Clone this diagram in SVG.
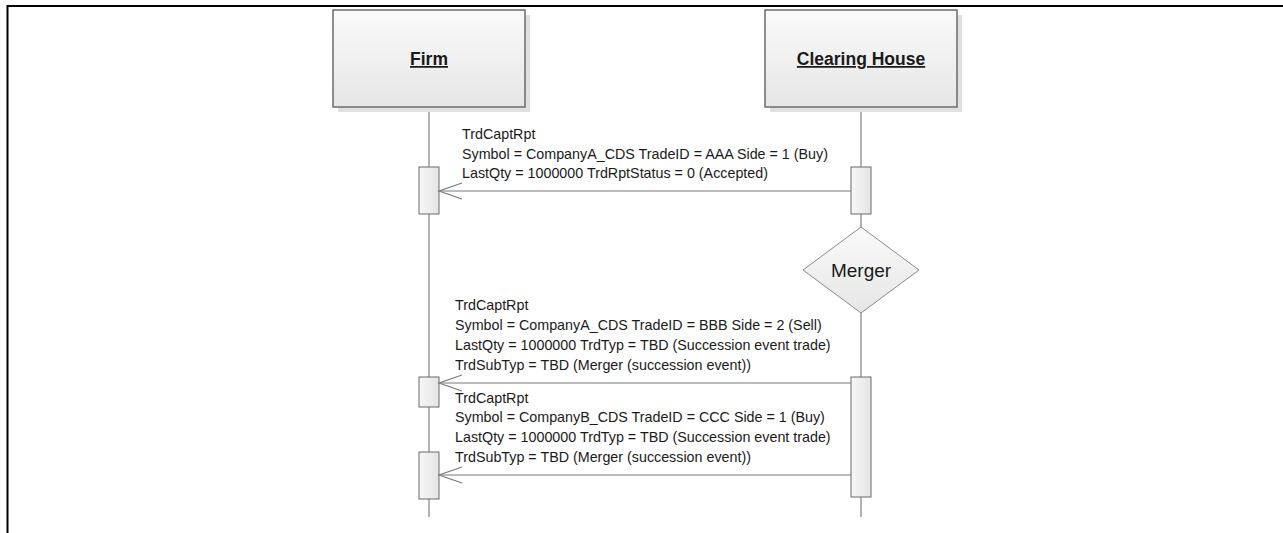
<svg xmlns="http://www.w3.org/2000/svg" width="1283" height="533" viewBox="0 0 1283 533" xml:space="preserve">
  <style>
    .frame { fill: none; stroke: #000; stroke-width: 2; }
    .head { fill: url(#boxFill); stroke: #6b6b6b; stroke-width: 1.5; }
    .shadow { fill: #e0e0e0; }
    .life { stroke: #9a9a9a; stroke-width: 1.5; fill: none; }
    .act { fill: url(#actFill); stroke: #6b6b6b; stroke-width: 1; }
    .msg { stroke: #7a7a7a; stroke-width: 1.2; fill: none; }
    .title { font-family: "Liberation Sans", Arial, sans-serif; font-size: 17.5px; font-weight: bold; fill: #1a1a1a; text-decoration: underline; text-anchor: middle; }
    .label { font-family: "Liberation Sans", Arial, sans-serif; font-size: 14.3px; fill: #1a1a1a; white-space: pre; }
    .merge { font-family: "Liberation Sans", Arial, sans-serif; font-size: 19px; fill: #1a1a1a; text-anchor: middle; }
  </style>
  <defs>
    <linearGradient id="boxFill" x1="0" y1="0" x2="0" y2="1">
      <stop offset="0" stop-color="#fafafa"/>
      <stop offset="1" stop-color="#e6e6e6"/>
    </linearGradient>
    <linearGradient id="actFill" x1="0" y1="0" x2="1" y2="0">
      <stop offset="0" stop-color="#f7f7f7"/>
      <stop offset="1" stop-color="#e4e4e4"/>
    </linearGradient>
    <!-- open V arrowhead, tip at the line end -->
    <marker id="openArrow" markerWidth="26" markerHeight="20" refX="24" refY="10" orient="auto" markerUnits="userSpaceOnUse">
      <path d="M1,2 L24,10 L1,18" fill="none" stroke="#7a7a7a" stroke-width="1.2"/>
    </marker>
  </defs>

  <rect width="1283" height="533" fill="#fff"/>
  <path class="frame" d="M7.5,533 V6 H1283"/>

  <!-- lifelines -->
  <g id="lifelines">
    <line class="life" x1="429" y1="107" x2="429" y2="517"/>
    <line class="life" x1="861" y1="107" x2="861" y2="517"/>
  </g>

  <g id="firm">
    <rect class="shadow" x="338" y="15" width="192" height="97"/>
    <rect class="head" x="333" y="10" width="192" height="97"/>
    <text class="title" x="429" y="65">Firm</text>
  </g>

  <g id="clearing-house">
    <rect class="shadow" x="770" y="15" width="192" height="97"/>
    <rect class="head" x="765" y="10" width="192" height="97"/>
    <text class="title" x="861" y="65">Clearing House</text>
  </g>

  <!-- activation bars -->
  <g id="activations">
    <rect class="act" x="419" y="167" width="20" height="47"/>
    <rect class="act" x="851" y="167" width="20" height="47"/>
    <rect class="act" x="419" y="377" width="20" height="30"/>
    <rect class="act" x="851" y="377" width="20" height="120"/>
    <rect class="act" x="419" y="452" width="20" height="47"/>
  </g>

  <g id="merger">
    <polygon points="861,227 919,270 861,313 803,270" fill="url(#boxFill)" stroke="#8a8a8a" stroke-width="1"/>
    <text class="merge" x="861" y="277">Merger</text>
  </g>

  <!-- messages -->
  <g id="connectors">
    <line class="msg" x1="851" y1="191" x2="439" y2="191" marker-end="url(#openArrow)"/>
    <line class="msg" x1="851" y1="383" x2="439" y2="383" marker-end="url(#openArrow)"/>
    <line class="msg" x1="851" y1="475" x2="439" y2="475" marker-end="url(#openArrow)"/>
  </g>

  <g id="msg1-label" class="label">
    <text x="462" y="139">TrdCaptRpt</text>
    <text x="462" y="159">Symbol = CompanyA_CDS TradeID = AAA  Side = 1 (Buy)</text>
    <text x="462" y="178">LastQty = 1000000 TrdRptStatus = 0 (Accepted)</text>
  </g>

  <g id="msg2-label" class="label">
    <text x="455" y="310">TrdCaptRpt</text>
    <text x="455" y="330">Symbol = CompanyA_CDS  TradeID = BBB Side = 2 (Sell)</text>
    <text x="455" y="350">LastQty = 1000000 TrdTyp = TBD (Succession event trade)</text>
    <text x="455" y="370">TrdSubTyp = TBD (Merger (succession event))</text>
  </g>

  <g id="msg3-label" class="label">
    <text x="455" y="403">TrdCaptRpt</text>
    <text x="455" y="422">Symbol = CompanyB_CDS  TradeID = CCC Side = 1 (Buy)</text>
    <text x="455" y="442">LastQty = 1000000 TrdTyp = TBD (Succession event trade)</text>
    <text x="455" y="462">TrdSubTyp = TBD (Merger (succession event))</text>
  </g>
</svg>
